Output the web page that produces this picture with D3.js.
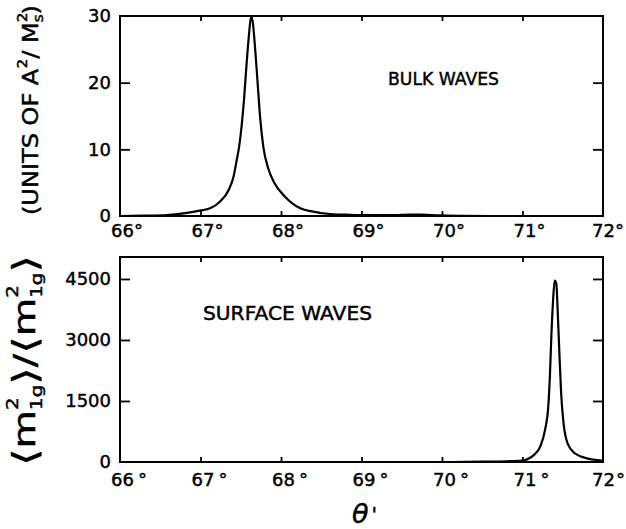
<!DOCTYPE html>
<html><head><meta charset="utf-8">
<script src="https://cdn.jsdelivr.net/npm/d3@7"></script>
<style>body{margin:0;background:#fff} svg{display:block} text{stroke:#000;stroke-width:0.45px;fill:#000}</style>
</head><body><svg id="c" width="626" height="529"></svg>
<script>
// ---------- data ----------
const xTicks = [66, 67, 68, 69, 70, 71, 72];
const bulkYTicks = [0, 10, 20, 30];
const surfYTicks = [0, 1500, 3000, 4500];

const bulkTheta = [66.00, 66.30, 66.58, 66.79, 66.99, 67.12, 67.24, 67.35, 67.41, 67.45, 67.48, 67.51, 67.54, 67.57, 67.60, 67.63,
  67.65, 67.68, 67.71, 67.74, 67.78, 67.84, 67.92, 68.05, 68.24, 68.40, 68.61, 68.82, 69.10, 69.40, 69.60, 69.75, 69.95, 70.20, 70.60, 72.00];
const bulkValue = [0.00, 0.05, 0.15, 0.40, 0.80, 1.15, 2.15, 3.9, 5.9, 8.4, 10.4, 13.4, 17.4, 22.4, 26.9, 30.0,
  29.0, 24.9, 19.9, 14.9, 10.4, 7.2, 4.9, 2.9, 1.15, 0.65, 0.30, 0.20, 0.12, 0.12, 0.20, 0.20, 0.10, 0.03, 0.00, 0.00];

const surfTheta = [66.00, 70.00, 70.50, 70.80, 70.99, 71.14, 71.22, 71.28, 71.32, 71.34, 71.36, 71.38, 71.40,
  71.42, 71.44, 71.46, 71.48, 71.51, 71.56, 71.65, 71.80, 71.98, 72.00];
const surfValue = [0, 0, 8, 18, 35, 170, 380, 790, 1360, 2100, 3170, 3980, 4460,
  4390, 3570, 2590, 1690, 950, 460, 215, 90, 35, 30];

const bulkText = "BULK WAVES";
const surfText = "SURFACE WAVES";

// ---------- drawing ----------
const svg = d3.select("#c");
const FONT = "DejaVu Sans";
const x = d3.scaleLinear().domain([66, 72]).range([120, 603]);
const yTop = d3.scaleLinear().domain([0, 30]).range([216, 16]);
const yBot = d3.scaleLinear().domain([0, 5040]).range([462, 257]);

function styleAxis(g) {
  g.select(".domain").remove();
  g.selectAll(".tick line").attr("stroke", "#000").attr("stroke-width", 1.8);
  g.selectAll("text").attr("font-family", FONT).attr("font-size", 18).attr("fill", "#000");
}

function panel(y, yticks, theta, vals, labPad, degGap) {
  const g = svg.append("g");
  const [y0, y1] = y.range();
  const inner = yticks.filter(d => d !== 0 && y(d) > y1 + 2);
  g.append("g").attr("transform", `translate(${x(66)},0)`)
    .call(d3.axisLeft(y).tickValues(yticks).tickSize(-10).tickPadding(9).tickFormat(d => d))
    .call(styleAxis)
    .call(a => a.selectAll(".tick line").filter(d => !inner.includes(d)).remove());
  g.append("g").attr("transform", `translate(${x(72)},0)`)
    .call(d3.axisRight(y).tickValues(inner).tickSize(-10).tickFormat(""))
    .call(styleAxis);
  g.append("g").attr("transform", `translate(0,${y1})`)
    .call(d3.axisTop(x).tickValues(xTicks.slice(1, -1)).tickSize(-5).tickFormat(""))
    .call(styleAxis);
  const bx = g.append("g").attr("transform", `translate(0,${y0})`)
    .call(d3.axisBottom(x).tickValues(xTicks).tickSize(-5).tickPadding(labPad).tickFormat(d => d))
    .call(styleAxis)
    .call(a => a.selectAll(".tick line").filter(d => d === 66 || d === 72).remove());
  bx.selectAll(".tick text").each(function (d) {
    const t = d3.select(this);
    const w = this.getComputedTextLength();
    t.attr("text-anchor", "start").attr("x", (d === 72 ? 0 : 2) - w / 2);
    t.append("tspan").attr("dx", d === 72 ? Math.min(degGap, 1) : degGap).text("°");
  });
  g.append("rect").attr("x", x(66)).attr("y", y1)
    .attr("width", x(72) - x(66)).attr("height", y0 - y1)
    .attr("fill", "none").attr("stroke", "#000").attr("stroke-width", 2);
  const line = d3.line().x((d, i) => x(theta[i])).y(d => y(d)).curve(d3.curveMonotoneX);
  g.append("path").attr("d", line(vals)).attr("fill", "none")
    .attr("stroke", "#000").attr("stroke-width", 2.2).attr("stroke-linejoin", "round");
}

panel(yTop, bulkYTicks, bulkTheta, bulkValue, 8, 0);
panel(yBot, surfYTicks, surfTheta, surfValue, 11, 4);

svg.append("text").attr("x", 388).attr("y", 85).attr("font-family", FONT).attr("font-size", 18)
  .attr("textLength", 111).attr("lengthAdjust", "spacingAndGlyphs").text(bulkText);
svg.append("text").attr("x", 203).attr("y", 320).attr("font-family", FONT).attr("font-size", 19)
  .attr("textLength", 169).attr("lengthAdjust", "spacingAndGlyphs").text(surfText);

const xt = svg.append("text").attr("x", 352).attr("y", 523).attr("font-family", FONT)
  .attr("font-style", "italic").attr("font-size", 27).text("θ");
xt.append("tspan").attr("dx", 3).attr("font-style", "normal").attr("font-size", 20).attr("dy", -2).text("'");

function richLabel(px, py, target, pieces) {
  const outer = svg.append("g").attr("transform", `translate(${px},${py}) rotate(-90)`);
  const g = outer.append("g");
  let cur = 0;
  pieces.forEach(p => {
    const t = g.append("text").attr("x", cur).attr("y", p.dy || 0)
      .attr("font-family", FONT).attr("font-size", p.fs).text(p.t);
    const w = t.node().getComputedTextLength();
    if (p.adv !== false) cur += w;
  });
  g.attr("transform", `scale(${target / cur},1)`);
}

richLabel(38, 215, 210, [
  {t: "(UNITS OF A", fs: 22},
  {t: "2", fs: 14, dy: -11},
  {t: " / M", fs: 22},
  {t: "2", fs: 14, dy: -11, adv: false},
  {t: "s", fs: 14, dy: 5},
  {t: ")", fs: 22}
]);

richLabel(35, 466, 211, [
  {t: "⟨", fs: 34, dy: 2},
  {t: "m", fs: 30},
  {t: "2", fs: 15, dy: -17, adv: false},
  {t: "1g", fs: 15, dy: 7},
  {t: "⟩", fs: 34, dy: 2},
  {t: "/", fs: 30},
  {t: "⟨", fs: 34, dy: 2},
  {t: "m", fs: 30},
  {t: "2", fs: 15, dy: -17, adv: false},
  {t: "1g", fs: 15, dy: 7},
  {t: "⟩", fs: 34, dy: 2}
]);
</script></body></html>
